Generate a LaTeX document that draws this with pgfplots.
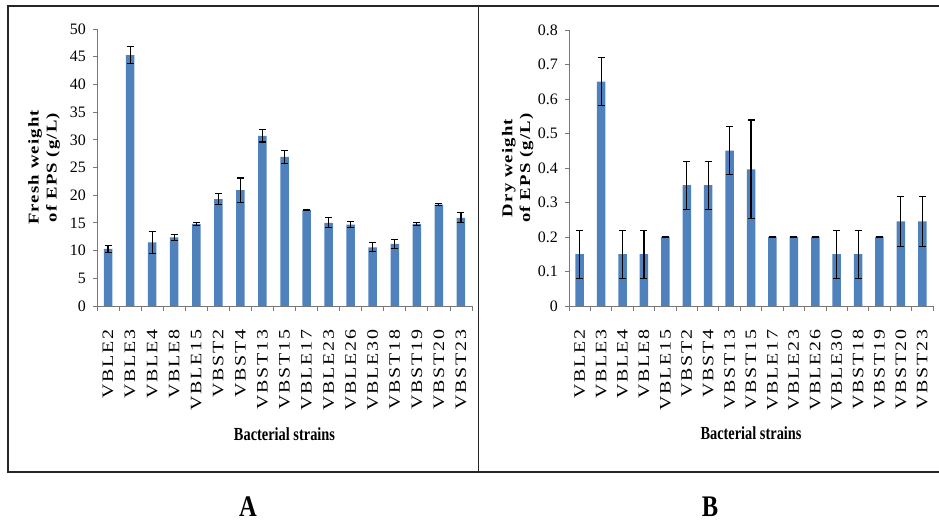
\documentclass[border=0pt]{standalone}
\usepackage{fontspec}
\setmainfont{Liberation Serif}
\newfontfamily\catfont{Liberation Serif}[FakeStretch=1.25, LetterSpace=12]
\newfontfamily\ylabfont{Liberation Serif}[FakeStretch=1.25, LetterSpace=8]
\newfontfamily\xlabfont{Liberation Serif}[FakeStretch=0.78]
\newfontfamily\panfont{Liberation Serif}[FakeStretch=0.82]
\usepackage{pgfplots}
\pgfplotsset{compat=1.18}
\definecolor{barblue}{RGB}{79,129,189}
\definecolor{axgray}{RGB}{120,120,120}
\pgfplotsset{common/.style={
  scale only axis, xmin=-0.5, xmax=16.5, ymin=0,
  axis x line*=bottom, axis y line*=left,
  axis line style={axgray, line width=0.8bp},
  tick align=outside,
  tick style={axgray, line width=0.8bp},
  major tick length=4bp, minor tick length=5bp,
  xtick={0,...,16},
  minor xtick={-0.5,0.5,...,16.5},
  major x tick style={draw=none},
  xticklabels={VBLE2,VBLE3,VBLE4,VBLE8,VBLE15,VBST2,VBST4,VBST13,VBST15,VBLE17,VBLE23,VBLE26,VBLE30,VBST18,VBST19,VBST20,VBST23},
  xticklabel style={rotate=90, anchor=east, inner sep=0pt, font=\catfont\fontsize{16}{16}\selectfont},
  xticklabel shift=19bp,
  yticklabel style={inner sep=0pt, font=\fontsize{16}{16}\selectfont},
  yticklabel shift=7bp,
  /pgf/number format/assume math mode=true,
  every axis x label/.style={at={(axis description cs:0.5,-0.462)}, anchor=center, font=\xlabfont\bfseries\fontsize{18.5}{18.5}\selectfont},
  every axis y label/.style={at={(axis description cs:-0.141,0.5)}, rotate=90, anchor=center, align=center, font=\ylabfont\bfseries\fontsize{15}{18}\selectfont},
  xlabel={Bacterial strains},
}}
\pgfplotsset{barplot/.style={ybar, bar width=8.5bp, fill=barblue, draw=none,
  error bars/.cd, y dir=both, y explicit,
  error bar style={line width=1.1bp, black},
  error mark options={rotate=90, mark size=3.5bp, line width=1.1bp, black}}}
\begin{document}
\begin{tikzpicture}[x=1bp,y=1bp]
\useasboundingbox (0,0) rectangle (939,524);
\draw[line width=1.5bp, black!85] (8,52) rectangle (478.5,518);
\draw[line width=1.5bp, black!85] (478.5,52) -- (945,52) (478.5,518) -- (945,518);
\begin{axis}[common, at={(97bp,218bp)}, anchor=south west, width=375bp, height=277bp,
  ymax=50, ytick={0,5,10,15,20,25,30,35,40,45,50},
  ylabel={Fresh weight\\of EPS (g/L)}]
\addplot[barplot] table[x=x, y=y, y error=e] {
x y e
0 10.3 0.6
1 45.3 1.5
2 11.5 2.0
3 12.4 0.5
4 14.8 0.2
5 19.3 1.0
6 20.9 2.2
7 30.7 1.1
8 26.9 1.1
9 17.3 0.1
10 15.0 0.9
11 14.7 0.6
12 10.6 0.8
13 11.2 0.8
14 14.8 0.2
15 18.3 0.2
16 15.9 0.9
};
\end{axis}
\begin{axis}[common, at={(569bp,218bp)}, anchor=south west, width=364bp, height=276bp,
  ymax=0.8, ytick={0,0.1,0.2,0.3,0.4,0.5,0.6,0.7,0.8},
  yticklabels={0,0.1,0.2,0.3,0.4,0.5,0.6,0.7,0.8},
  ylabel={Dry weight\\of EPS (g/L)}]
\addplot[barplot] table[x=x, y=y, y error=e] {
x y e
0 0.15 0.07
1 0.65 0.07
2 0.15 0.07
3 0.15 0.07
4 0.20 0.0
5 0.35 0.07
6 0.35 0.07
7 0.45 0.07
8 0.396 0.143
9 0.20 0.0
10 0.20 0.0
11 0.20 0.0
12 0.15 0.07
13 0.15 0.07
14 0.20 0.0
15 0.245 0.072
16 0.245 0.072
};
\end{axis}
\node[inner sep=0pt, anchor=base, font=\panfont\bfseries\fontsize{30}{30}\selectfont] at (248,7) {A};
\node[inner sep=0pt, anchor=base, font=\panfont\bfseries\fontsize{30}{30}\selectfont] at (710,7) {B};
\end{tikzpicture}
\end{document}
